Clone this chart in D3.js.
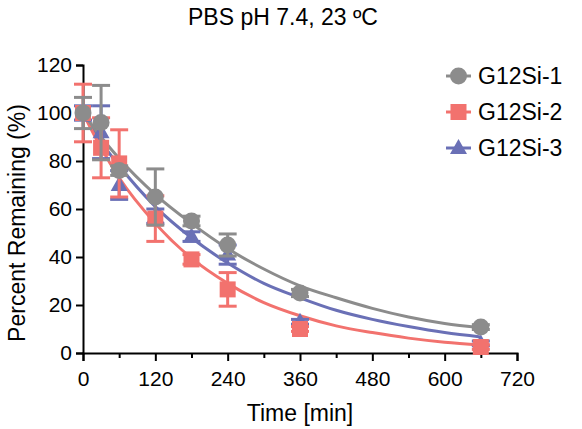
<!DOCTYPE html>
<html><head><meta charset="utf-8">
<script src="https://cdn.jsdelivr.net/npm/d3@7"></script>
<style>body{margin:0;background:#fff}svg{display:block}text{font-family:"Liberation Sans",Arial,sans-serif;fill:#000}</style>
</head><body>
<svg id="c" width="582" height="429"></svg>
<script>
const title = "PBS pH 7.4, 23 ºC";
const xLabel = "Time [min]";
const yLabel = "Percent Remaining (%)";
const seriesNames = ["G12Si-1", "G12Si-2", "G12Si-3"];
const times = [0, 30, 60, 120, 180, 240, 360, 660];
const g1 = [100, 96, 76, 65, 55, 45, 25, 10.8];
const g1err = [6.5, 15.5, 2, 11.7, 2, 4.6, 1.5, 1];
const g2 = [100, 85.5, 79, 56, 39, 26.5, 10, 2.5];
const g2err = [12, 12.5, 14, 9.5, 2, 7, 1, 1];
const g3 = [100, 92, 70, 57, 48.5, 41, 13, 4];
const g3err = [3, 11, 6, 3, 2, 4, 1, 1];
// fitted curves
const fitTimes = [0, 30, 60, 120, 180, 240, 300, 360, 420, 480, 540, 600, 660];
const fit1 = [100, 90, 81, 66, 54, 43.5, 35, 28, 23, 18.6, 15, 12.3, 10.5];
const fit2 = [100, 85.5, 73, 54, 39.5, 29, 21, 15.5, 11.3, 8.5, 6.2, 4.5, 3.3];
const fit3 = [100, 88, 78, 61, 48, 37.5, 29, 23, 17.8, 14, 11, 8.5, 6.7];
const xTicks = [0, 120, 240, 360, 480, 600, 720];
const xMinor = [60, 180, 300, 420, 540, 660];
const yTicks = [0, 20, 40, 60, 80, 100, 120];

const colors = ["#8c8c8c", "#f2726e", "#6a70b6"];
const shapes = ["circle", "square", "triangle"];

const svg = d3.select("#c");
const x = d3.scaleLinear().domain([0, 720]).range([83, 517]);
const y = d3.scaleLinear().domain([0, 120]).range([353, 65]);

const series = [
  {name: seriesNames[0], v: g1, e: g1err, fit: fit1, c: colors[0], s: shapes[0]},
  {name: seriesNames[1], v: g2, e: g2err, fit: fit2, c: colors[1], s: shapes[1]},
  {name: seriesNames[2], v: g3, e: g3err, fit: fit3, c: colors[2], s: shapes[2]}
];

function marker(g, shape, cx, cy, color) {
  if (shape === "circle") g.append("circle").attr("cx", cx).attr("cy", cy).attr("r", 8.5).attr("fill", color);
  else if (shape === "square") g.append("rect").attr("x", cx - 8).attr("y", cy - 8).attr("width", 16).attr("height", 16).attr("fill", color);
  else g.append("path").attr("d", `M${cx},${cy - 9}L${cx + 8.5},${cy + 6}L${cx - 8.5},${cy + 6}Z`).attr("fill", color);
}

// axes
const xAxis = svg.append("g").attr("transform", "translate(0,353)")
  .call(d3.axisBottom(x).tickValues(xTicks).tickSize(8).tickPadding(6).tickFormat(d3.format("d")));
svg.append("g").attr("transform", "translate(0,353)")
  .call(d3.axisBottom(x).tickValues(xMinor).tickSize(5).tickFormat(""))
  .call(g => g.select(".domain").remove());
const yAxis = svg.append("g").attr("transform", "translate(83,0)")
  .call(d3.axisLeft(y).tickValues(yTicks).tickSize(7).tickPadding(4).tickFormat(d3.format("d")));
svg.selectAll(".domain").attr("stroke-width", 2).attr("stroke", "#000");
svg.selectAll(".tick line").attr("stroke-width", 2).attr("stroke", "#000");
svg.selectAll(".tick text").attr("font-size", 21).attr("font-family", "Liberation Sans, Arial, sans-serif");
xAxis.selectAll(".tick text").attr("dy", "0.9em");

// curves
const line = d3.line().x((d, i) => x(fitTimes[i])).y(d => y(d)).curve(d3.curveMonotoneX);
const plot = svg.append("g");
[2, 1, 0].forEach(k => {
  plot.append("path").attr("d", line(series[k].fit)).attr("fill", "none")
    .attr("stroke", series[k].c).attr("stroke-width", 3);
});
// error bars and markers
[2, 1, 0].forEach(k => {
  const s = series[k];
  const g = plot.append("g");
  times.forEach((t, i) => {
    const cx = x(t), hi = y(s.v[i] + s.e[i]), lo = y(s.v[i] - s.e[i]);
    g.append("line").attr("x1", cx).attr("x2", cx).attr("y1", hi).attr("y2", lo).attr("stroke", s.c).attr("stroke-width", 3);
    [hi, lo].forEach(yy => g.append("line").attr("x1", cx - 9).attr("x2", cx + 9).attr("y1", yy).attr("y2", yy).attr("stroke", s.c).attr("stroke-width", 3));
  });
  times.forEach((t, i) => marker(g, s.s, x(t), y(s.v[i]), s.c));
});

// labels
svg.append("text").attr("x", 283).attr("y", 25).attr("text-anchor", "middle").attr("font-size", 23).text(title);
svg.append("text").attr("x", 300).attr("y", 421).attr("text-anchor", "middle").attr("font-size", 23).text(xLabel);
svg.append("text").attr("transform", "translate(25,223) rotate(-90)").attr("text-anchor", "middle").attr("font-size", 23).text(yLabel);

// legend
const leg = svg.append("g");
series.forEach((s, i) => {
  const ly = 76 + i * 36;
  leg.append("line").attr("x1", 446).attr("x2", 471).attr("y1", ly).attr("y2", ly).attr("stroke", s.c).attr("stroke-width", 3);
  marker(leg, s.s, 458.5, ly, s.c);
  leg.append("text").attr("x", 478).attr("y", ly + 8).attr("font-size", 23).text(s.name);
});
</script>
</body></html>
